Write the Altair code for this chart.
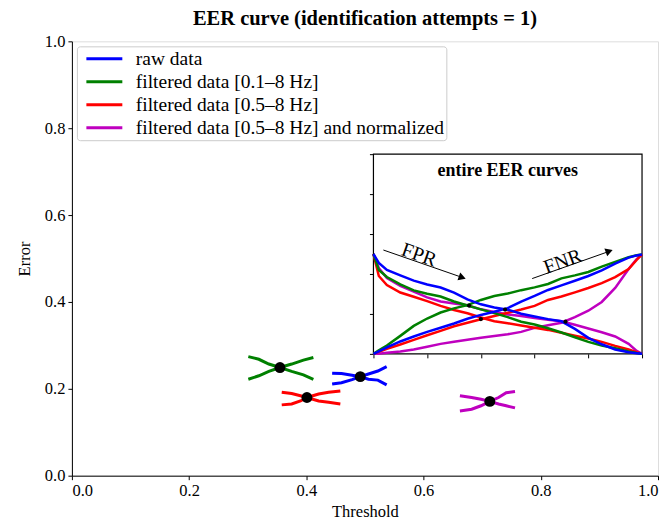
import altair as alt
import pandas as pd

FONT = "Liberation Serif"

SERIES = ["raw data", "filtered data [0.1–8 Hz]", "filtered data [0.5–8 Hz]",
          "filtered data [0.5–8 Hz] and normalized"]
COLORS = ["#0000ff", "#008000", "#ff0000", "#bf00bf"]
DRAW_ORDER = [3, 2, 1, 0]  # purple, red, green, blue (blue on top)

# ---- entire EER curves (inset) ----
T = [0.0, 0.02, 0.05, 0.1, 0.15, 0.2, 0.25, 0.3, 0.35, 0.4, 0.45, 0.5, 0.55,
     0.6, 0.65, 0.7, 0.75, 0.8, 0.85, 0.9, 0.95, 0.98, 1.0]
raw_fpr = [0.50, 0.455, 0.42, 0.393, 0.367, 0.347, 0.332, 0.307, 0.273, 0.248, 0.232, 0.221,
           0.201, 0.187, 0.174, 0.163, 0.125, 0.08, 0.048, 0.022, 0.008, 0.003, 0.0]
raw_fnr = [0.0, 0.013, 0.032, 0.062, 0.087, 0.11, 0.131, 0.152, 0.176, 0.195, 0.211, 0.229,
           0.262, 0.29, 0.32, 0.343, 0.366, 0.39, 0.418, 0.452, 0.482, 0.493, 0.498]
f01_fpr = [0.50, 0.42, 0.385, 0.348, 0.318, 0.301, 0.287, 0.262, 0.242, 0.223, 0.204, 0.184,
           0.161, 0.147, 0.128, 0.107, 0.083, 0.06, 0.042, 0.028, 0.012, 0.004, 0.0]
f01_fnr = [0.0, 0.018, 0.042, 0.09, 0.14, 0.177, 0.207, 0.228, 0.244, 0.27, 0.29, 0.302,
           0.319, 0.333, 0.35, 0.378, 0.393, 0.41, 0.437, 0.461, 0.484, 0.494, 0.498]
f05_fpr = [0.50, 0.39, 0.345, 0.307, 0.286, 0.264, 0.24, 0.22, 0.203, 0.182, 0.163, 0.153,
           0.142, 0.131, 0.12, 0.106, 0.091, 0.077, 0.06, 0.04, 0.022, 0.008, 0.0]
f05_fnr = [0.0, 0.01, 0.025, 0.047, 0.07, 0.093, 0.115, 0.138, 0.156, 0.173, 0.19, 0.206,
           0.222, 0.24, 0.27, 0.287, 0.308, 0.33, 0.354, 0.384, 0.425, 0.47, 0.498]
nrm_fpr = [0.50, 0.43, 0.38, 0.34, 0.312, 0.283, 0.262, 0.252, 0.243, 0.223, 0.21, 0.197,
           0.19, 0.179, 0.171, 0.163, 0.146, 0.127, 0.108, 0.087, 0.05, 0.015, 0.0]
nrm_fnr = [0.0, 0.001, 0.005, 0.012, 0.022, 0.036, 0.05, 0.061, 0.071, 0.081, 0.089, 0.098,
           0.11, 0.13, 0.143, 0.156, 0.184, 0.216, 0.26, 0.33, 0.425, 0.475, 0.498]
inset_eer_t = [0.49, 0.356, 0.40, 0.715]
inset_eer_e = [0.222, 0.242, 0.174, 0.161]

# ---- zoomed pieces around the EER points (main axes) ----
raw_zt = [0.444, 0.46, 0.478, 0.492, 0.506, 0.522, 0.537]
raw_zfpr = [0.236, 0.235, 0.231, 0.228, 0.222, 0.220, 0.209]
raw_zfnr = [0.211, 0.214, 0.221, 0.228, 0.234, 0.241, 0.251]
f01_zt = [0.301, 0.319, 0.336, 0.355, 0.375, 0.395, 0.412]
f01_zfpr = [0.274, 0.268, 0.257, 0.249, 0.240, 0.232, 0.222]
f01_zfnr = [0.222, 0.230, 0.240, 0.249, 0.257, 0.266, 0.272]
f05_zt = [0.358, 0.375, 0.39, 0.401, 0.421, 0.438, 0.458]
f05_zfpr = [0.192, 0.189, 0.184, 0.180, 0.172, 0.169, 0.165]
f05_zfnr = [0.163, 0.165, 0.172, 0.180, 0.188, 0.192, 0.195]
nrm_zt = [0.662, 0.682, 0.698, 0.713, 0.728, 0.741, 0.756]
nrm_zfpr = [0.184, 0.180, 0.176, 0.171, 0.165, 0.161, 0.156]
nrm_zfnr = [0.149, 0.153, 0.161, 0.171, 0.180, 0.191, 0.194]
eer_t = [0.492, 0.355, 0.401, 0.713]
eer_e = [0.228, 0.249, 0.180, 0.171]

# annotations in inset (inset data units)
arrow_x = [0.037, 0.591]
arrow_y = [0.52, 0.377]
arrow_x2 = [0.33, 0.875]
arrow_y2 = [0.383, 0.512]
head_x = [0.3265, 0.8735]
head_y = [0.384, 0.5125]
head_angle = [109.3, 70.2]
label_text = ["FPR", "FNR"]
label_x = [0.17, 0.705]
label_y = [0.495, 0.461]
label_angle = [19.3, 340.2]


def long_frame(ts, curves, eachT=True):
    rows = []
    for k in DRAW_ORDER:
        name = SERIES[k]
        t = ts if eachT else ts[k]
        fpr, fnr = curves[k]
        for kind, vals in (("FPR", fpr), ("FNR", fnr)):
            for tv, ev in zip(t, vals):
                rows.append({"t": tv, "err": ev, "series": name, "curve": name + "|" + kind})
    return pd.DataFrame(rows)


inset_df = long_frame(T, [(raw_fpr, raw_fnr), (f01_fpr, f01_fnr), (f05_fpr, f05_fnr),
                          (nrm_fpr, nrm_fnr)])
main_df = long_frame([raw_zt, f01_zt, f05_zt, nrm_zt],
                     [(raw_zfpr, raw_zfnr), (f01_zfpr, f01_zfnr), (f05_zfpr, f05_zfnr),
                      (nrm_zfpr, nrm_zfnr)], eachT=False)
eer_df = pd.DataFrame({"t": eer_t, "err": eer_e})
ieer_df = pd.DataFrame({"t": inset_eer_t, "err": inset_eer_e})
frame_df = pd.DataFrame({"t": [0.0], "t2": [1.0], "err": [0.0], "err2": [1.0]})
arrow_df = pd.DataFrame({"t": arrow_x, "err": arrow_y, "t2": arrow_x2, "err2": arrow_y2})
head_df = pd.DataFrame({"t": head_x, "err": head_y, "ang": head_angle})
lab_df = pd.DataFrame({"txt": label_text, "t": label_x, "err": label_y, "ang": label_angle})
ititle_df = pd.DataFrame({"txt": ["entire EER curves"], "t": [0.5], "err": [0.915]})

W, H = 587, 435
IX0, IX1 = 302, 571
IY0, IY1 = 313, 113

color = alt.Color("series:N", scale=alt.Scale(domain=SERIES, range=COLORS),
                  legend=alt.Legend(title=None, orient="top-left", offset=5,
                                    symbolType="stroke", symbolStrokeWidth=3,
                                    symbolSize=1296, symbolOffset=6,
                                    labelFont=FONT, labelFontSize=19.5,
                                    labelOffset=12, rowPadding=2, clipHeight=21, padding=2,
                                    strokeColor="#cccccc", fillColor="white",
                                    cornerRadius=3, labelLimit=0))

mx = alt.X("t:Q", scale=alt.Scale(domain=[0, 1], nice=False),
           axis=alt.Axis(values=[0, 0.2, 0.4, 0.6, 0.8, 1.0], format=".1f", grid=False,
                         tickSize=4, tickColor="black", domainColor="black",
                         labelFont=FONT, labelFontSize=16.5, labelColor="black",
                         title="Threshold", titleFont=FONT, titleFontSize=16.5,
                         titleFontWeight="normal", titleColor="black", titlePadding=4,
                         labelPadding=3))
my = alt.Y("err:Q", scale=alt.Scale(domain=[0, 1], nice=False),
           axis=alt.Axis(values=[0, 0.2, 0.4, 0.6, 0.8, 1.0], format=".1f", grid=False,
                         tickSize=4, tickColor="black", domainColor="black",
                         labelFont=FONT, labelFontSize=16.5, labelColor="black",
                         title="Error", titleFont=FONT, titleFontSize=16.5,
                         titleFontWeight="normal", titleColor="black", titlePadding=12,
                         labelPadding=3))

segs = alt.Chart(main_df).mark_line(strokeWidth=3).encode(
    x=mx, y=my, color=color, detail="curve:N", order="t:Q")
dots = alt.Chart(eer_df).mark_circle(color="black", size=120, opacity=1).encode(x=mx, y=my)
main_layer = alt.layer(segs, dots)

ixs = alt.Scale(domain=[0, 1], range=[IX0, IX1], nice=False)
iys = alt.Scale(domain=[0, 1], range=[IY0, IY1], nice=False)
ix_axis = alt.Axis(orient="bottom", offset=-(H - IY0), labels=False, domain=False,
                   grid=False, ticks=True, tickSize=4, tickColor="black",
                   values=[0, 0.2, 0.4, 0.6, 0.8, 1.0], title=None)
iy_axis = alt.Axis(orient="left", offset=-IX0, labels=False, domain=False,
                   grid=False, ticks=True, tickSize=4, tickColor="black",
                   values=[0, 0.2, 0.4, 0.6, 0.8, 1.0], title=None)


def ix(field="t"):
    return alt.X(f"{field}:Q", scale=ixs, axis=ix_axis)


def iy(field="err"):
    return alt.Y(f"{field}:Q", scale=iys, axis=iy_axis)


frame = alt.Chart(frame_df).mark_rect(fill="white", stroke="black", strokeWidth=1.2).encode(
    x=ix(), x2="t2:Q", y=iy(), y2="err2:Q")
ilines = alt.Chart(inset_df).mark_line(strokeWidth=2.5).encode(
    x=ix(), y=iy(), color=color, detail="curve:N", order="t:Q")
idots = alt.Chart(ieer_df).mark_circle(color="black", size=18, opacity=1).encode(x=ix(), y=iy())
arrows = alt.Chart(arrow_df).mark_rule(color="black", strokeWidth=1).encode(
    x=ix(), y=iy(), x2="t2:Q", y2="err2:Q")
heads = alt.Chart(head_df).mark_point(shape="triangle", filled=True, color="black",
                                       size=70, opacity=1).encode(
    x=ix(), y=iy(), angle=alt.Angle("ang:Q", scale=None))
labels = alt.Chart(lab_df).mark_text(font=FONT, fontSize=20, color="black").encode(
    x=ix(), y=iy(), text="txt:N", angle=alt.Angle("ang:Q", scale=None))
ititle = alt.Chart(ititle_df).mark_text(font=FONT, fontSize=18, fontWeight="bold",
                                        color="black").encode(x=ix(), y=iy(), text="txt:N")
inset_layer = alt.layer(frame, ilines, idots, arrows, heads, labels, ititle)

chart = alt.layer(main_layer, inset_layer).resolve_scale(
    x="independent", y="independent"
).properties(
    width=W, height=H,
    padding={"left": 8, "top": 0, "right": 5, "bottom": 0},
    title=alt.TitleParams("EER curve (identification attempts = 1)", font=FONT,
                          fontSize=20.5, fontWeight="bold", anchor="middle", offset=4,
                          color="black"),
).configure_view(stroke="black", strokeWidth=1.2).configure(background="white")

chart.save("out.html", embed_options={"renderer": "svg", "actions": False})
